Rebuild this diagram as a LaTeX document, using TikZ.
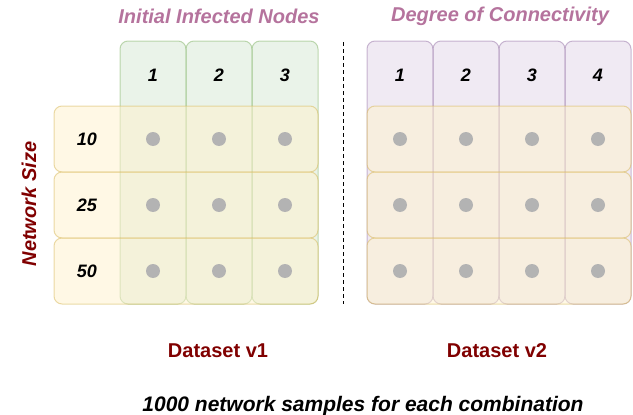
\documentclass[tikz,border=0pt]{standalone}
\usepackage{fontspec}
\setmainfont{Liberation Sans}
\definecolor{greenfill}{HTML}{D5E8D4}
\definecolor{greenline}{HTML}{82B366}
\definecolor{yellowfill}{HTML}{FFF2CC}
\definecolor{yellowline}{HTML}{D6B656}
\definecolor{purplefill}{HTML}{E1D5E7}
\definecolor{purpleline}{HTML}{9673A6}
\definecolor{dotgray}{HTML}{B3B3B3}
\definecolor{headcol}{HTML}{B5739D}
\definecolor{darkred}{HTML}{800000}
\tikzset{
  cell/.style={rectangle, rounded corners=8pt, line width=1pt, inner sep=0pt,
    fill opacity=0.5, draw opacity=0.5},
  colbox/.style={cell, fill=#1fill, draw=#1line, minimum width=66pt, minimum height=263pt},
  rowbox/.style={cell, fill=yellowfill, draw=yellowline, minimum width=264pt, minimum height=66pt},
  dot/.style={circle, fill=dotgray, inner sep=0pt, minimum size=14pt},
  num/.style={font=\fontsize{18}{18}\selectfont\bfseries\itshape, text=black},
  head/.style={font=\fontsize{20}{20}\selectfont\bfseries\itshape, text=headcol},
  setlabel/.style={font=\fontsize{20}{20}\selectfont\bfseries, text=darkred},
}
\begin{document}
\begin{tikzpicture}[x=1pt, y=-1pt]
\useasboundingbox (0,0) rectangle (633,415);

% first dataset: initial infected nodes x network size
\foreach \i/\x in {1/153, 2/219, 3/285} {
  \node[colbox=green] (a\i) at (\x,172.5) {};
  \node[num] (al\i) at (\x,75) {\i};
}
\foreach \j/\y/\n in {1/139/10, 2/205/25, 3/271/50} {
  \node[rowbox] (ar\j) at (186,\y) {};
  \node[num] (an\j) at (87,\y) {\n};
  \foreach \i/\x in {1/153, 2/219, 3/285}
    \node[dot] (ad\i\j) at (\x,\y) {};
}

% second dataset: degree of connectivity x network size
\foreach \i/\x in {1/400, 2/466, 3/532, 4/598} {
  \node[colbox=purple] (b\i) at (\x,172.5) {};
  \node[num] (bl\i) at (\x,75) {\i};
}
\foreach \j/\y in {1/139, 2/205, 3/271} {
  \node[rowbox] (br\j) at (499,\y) {};
  \foreach \i/\x in {1/400, 2/466, 3/532, 4/598}
    \node[dot] (bd\i\j) at (\x,\y) {};
}

% separator
\coordinate (septop) at (343,42);
\coordinate (sepbot) at (343,304);
\draw[line width=1pt, dash pattern=on 4pt off 3pt] (septop) -- (sepbot);

% headings and captions
\node[head] (h1) at (219,16) {Initial Infected Nodes};
\node[head] (h2) at (500,16) {Degree of Connectivity};
\node[font=\fontsize{20}{20}\selectfont\bfseries\itshape, text=darkred, rotate=90] (ns) at (29,204) {Network Size};
\node[setlabel] (v1) at (218,351) {Dataset v1};
\node[setlabel] (v2) at (497,351) {Dataset v2};
\node[font=\fontsize{21}{21}\selectfont\bfseries\itshape] (foot) at (363,406) {1000 network samples for each combination};
\end{tikzpicture}
\end{document}
